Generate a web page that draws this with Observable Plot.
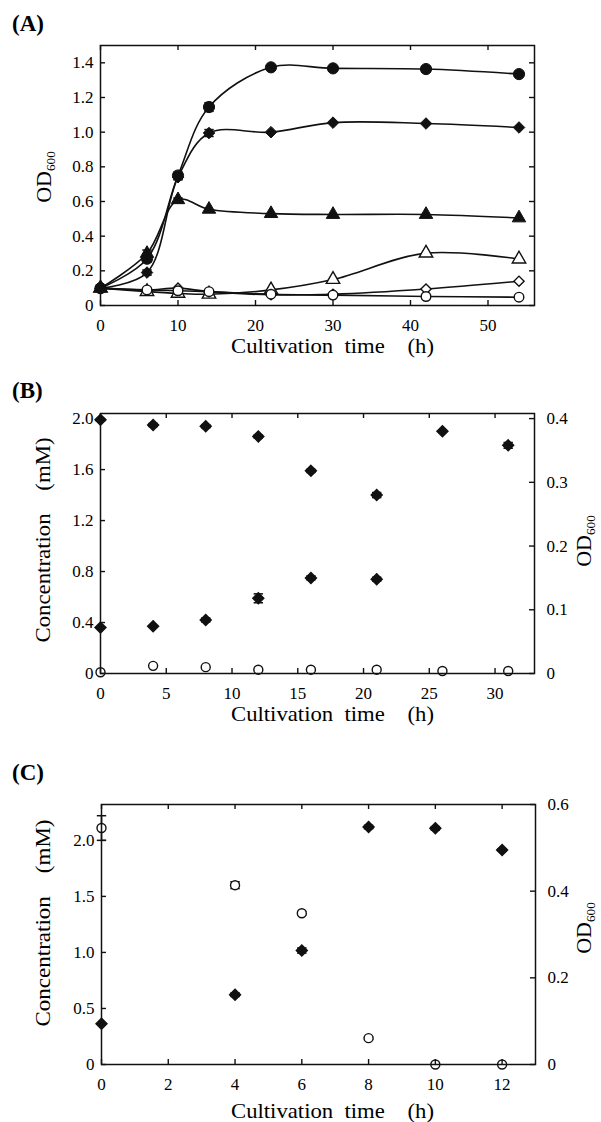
<!DOCTYPE html>
<html>
<head>
<meta charset="utf-8">
<script src="https://cdn.jsdelivr.net/npm/d3@7"></script>
<script src="https://cdn.jsdelivr.net/npm/@observablehq/plot@0.6"></script>
<style>
  html, body { margin: 0; padding: 0; background: #fff; }
  #wrap { position: relative; width: 601px; height: 1122px; overflow: hidden; background: #fff; }
  #wrap svg { position: absolute; left: 0; }
  text.pre { white-space: pre; }
</style>
</head>
<body>
<div id="wrap"></div>
<script>
const FONT = "Liberation Serif, Times New Roman, serif";
const INK = "#111";

// ---------------- Panel A data (OD600 growth curves) ----------------
const aTime = [0, 6, 10, 14, 22, 30, 42, 54];
const aCircleFilled    = [0.10, 0.27, 0.75, 1.145, 1.374, 1.368, 1.364, 1.335];
const aCircleFilledErr = [0, 0.02, 0.02, 0.025, 0.008, 0.008, 0.015, 0.01];
const aDiamondFilled   = [0.10, 0.19, 0.74, 0.995, 1.00, 1.055, 1.05, 1.027];
const aDiamondFilledErr= [0, 0.015, 0.015, 0.02, 0, 0, 0, 0];
const aTriangleFilled  = [0.10, 0.30, 0.61, 0.555, 0.53, 0.525, 0.525, 0.505];
const aTriangleFilledErr=[0, 0.02, 0.01, 0, 0, 0, 0, 0];
const aTriangleOpen    = [0.10, 0.08, 0.07, 0.065, 0.09, 0.15, 0.302, 0.268];
const aDiamondOpen     = [0.10, 0.09, 0.10, 0.08, 0.062, 0.065, 0.095, 0.14];
const aCircleOpen      = [0.10, 0.09, 0.085, 0.08, 0.065, 0.06, 0.052, 0.048];
const aXTicks = [0, 10, 20, 30, 40, 50];
const aYTicks = [0, 0.2, 0.4, 0.6, 0.8, 1.0, 1.2, 1.4];

// ---------------- Panel B data ----------------
const bTime = [0, 4, 8, 12, 16, 21, 26, 31];
const bConcTime = [0, 4, 8, 12, 16, 21];
const bConc    = [1.99, 1.95, 1.94, 1.86, 1.59, 1.40];      // mM, filled diamonds (left axis)
const bConcErr = [0.01, 0.012, 0.012, 0.012, 0.012, 0.02];
const bOD      = [0.072, 0.074, 0.084, 0.118, 0.150, 0.148, 0.380, 0.358]; // OD600 (right axis)
const bODErr   = [0, 0, 0.003, 0.007, 0.003, 0.003, 0, 0.0045];
const bOpen    = [0.01, 0.06, 0.05, 0.03, 0.03, 0.03, 0.02, 0.02]; // mM, open circles
const bXTicks = [0, 5, 10, 15, 20, 25, 30];
const bYTicks = [0, 0.4, 0.8, 1.2, 1.6, 2.0];
const bRightTicks = [0, 0.1, 0.2, 0.3, 0.4];

// ---------------- Panel C data ----------------
const cTime = [0, 4, 6, 8, 10, 12];
const cOpen    = [2.11, 1.60, 1.35, 0.235, 0, 0];            // mM, open circles (left axis)
const cOpenErr = [0.11, 0.03, 0.015, 0.01, 0, 0];
const cOD      = [0.094, 0.161, 0.263, 0.548, 0.545, 0.495]; // OD600, filled diamonds (right axis)
const cODErr   = [0, 0.004, 0.006, 0.004, 0.004, 0.003];
const cXTicks = [0, 2, 4, 6, 8, 10, 12];
const cYTicks = [0, 0.5, 1.0, 1.5, 2.0];
const cRightTicks = [0, 0.2, 0.4, 0.6];

// ---------------- helpers ----------------
const fmt1 = d => d === 0 ? "0" : d.toFixed(1);
const capSymbol = { draw(ctx, size) { const w = Math.sqrt(size) / 2; ctx.moveTo(-w, 0); ctx.lineTo(w, 0); } };

function rows(time, values, err, extra = {}) {
  return time.map((t, i) => ({ t, v: values[i], e: err ? err[i] : 0, ...extra }));
}
function errorBars(data) {
  const d = data.filter(r => r.e > 0);
  return [
    Plot.ruleX(d, { x: "t", y1: r => r.v - r.e, y2: r => r.v + r.e, stroke: INK, strokeWidth: 1.5 }),
    Plot.dot(d, { x: "t", y: r => r.v - r.e, symbol: capSymbol, r: 5.3, stroke: INK, strokeWidth: 1.5 }),
    Plot.dot(d, { x: "t", y: r => r.v + r.e, symbol: capSymbol, r: 5.3, stroke: INK, strokeWidth: 1.5 })
  ];
}
function frameTicks(xTicks, yLeft, yRight, innerW, innerH, len = 5) {
  const o = { stroke: INK, strokeWidth: 1.4 };
  return [
    Plot.tickX(xTicks, { x: d => d, insetTop: innerH - len, ...o }),
    Plot.tickX(xTicks, { x: d => d, insetBottom: innerH - len, ...o }),
    Plot.tickY(yLeft, { y: d => d, insetRight: innerW - len, ...o }),
    Plot.tickY(yRight, { y: d => d, insetLeft: innerW - len, ...o })
  ];
}
function addText(svg, { x, y, text, size = 21, weight = "normal", anchor = "start", rotate = 0, length = null, cls = "" }) {
  const t = d3.select(svg).append("text")
    .attr("transform", `translate(${x},${y}) rotate(${rotate})`)
    .attr("text-anchor", anchor)
    .attr("font-family", FONT).attr("font-size", size).attr("font-weight", weight)
    .attr("fill", "#000").attr("class", cls).text(text);
  if (length) t.attr("textLength", length).attr("lengthAdjust", "spacingAndGlyphs");
  return t;
}
function addOD(svg, x, y, size = 22) {
  const t = d3.select(svg).append("text")
    .attr("transform", `translate(${x},${y}) rotate(-90)`)
    .attr("text-anchor", "middle")
    .attr("font-family", FONT).attr("font-size", size).attr("fill", "#000");
  t.append("tspan").text("OD");
  t.append("tspan").attr("font-size", size * 0.6).attr("dy", size * 0.2).text("600");
}
function place(svg, top) { svg.style.top = top + "px"; document.getElementById("wrap").appendChild(svg); }

const axisStyle = { fontFamily: FONT, fontSize: "17px", color: "#000", background: "transparent", overflow: "visible" };

// ---------------- Panel A ----------------
{
  const W = 601, H = 370, mt = 45, mb = 65, ml = 100, mr = 67;
  const innerW = W - ml - mr, innerH = H - mt - mb;
  const filled = [
    { data: rows(aTime, aCircleFilled, aCircleFilledErr), symbol: "circle", r: 5.6 },
    { data: rows(aTime, aDiamondFilled, aDiamondFilledErr), symbol: "diamond2", r: 5.2 },
    { data: rows(aTime, aTriangleFilled, aTriangleFilledErr), symbol: "triangle", r: 5.0 }
  ];
  const open = [
    { data: rows(aTime, aTriangleOpen), symbol: "triangle", r: 5.0 },
    { data: rows(aTime, aDiamondOpen), symbol: "diamond2", r: 4.6 },
    { data: rows(aTime, aCircleOpen), symbol: "circle", r: 4.8 }
  ];
  const all = [...filled, ...open];
  const svg = Plot.plot({
    width: W, height: H, marginTop: mt, marginBottom: mb, marginLeft: ml, marginRight: mr,
    style: axisStyle,
    x: { domain: [0, 56] },
    y: { domain: [0, 1.5] },
    marks: [
      ...all.map(s => Plot.line(s.data, { x: "t", y: "v", curve: "catmull-rom", stroke: INK, strokeWidth: 1.6 })),
      ...open.map(s => Plot.dot(s.data, { x: "t", y: "v", symbol: s.symbol, r: s.r, fill: "#fff", stroke: INK, strokeWidth: 1.4 })),
      ...filled.map(s => Plot.dot(s.data, { x: "t", y: "v", symbol: s.symbol, r: s.r, fill: INK, stroke: INK, strokeWidth: 1 })),
      ...filled.flatMap(s => errorBars(s.data)),
      Plot.frame({ stroke: INK, strokeWidth: 1.5 }),
      ...frameTicks(aXTicks, aYTicks, aYTicks, innerW, innerH),
      Plot.axisX({ ticks: aXTicks, tickSize: 0, tickPadding: 13, fontSize: 17, label: null, tickFormat: d => String(d) }),
      Plot.axisY({ ticks: aYTicks, tickSize: 0, tickPadding: 7, fontSize: 17, label: null, tickFormat: fmt1 })
    ]
  });
  addText(svg, { x: 12, y: 31, text: "(A)", size: 23, weight: "bold" });
  addText(svg, { x: 231, y: 353, text: "Cultivation  time    (h)", size: 21, length: 203, cls: "pre" });
  addOD(svg, 51, 177);
  place(svg, 0);
}

// ---------------- Panel B ----------------
{
  const W = 601, H = 370, mt = 43, mb = 67, ml = 100, mr = 67;
  const innerW = W - ml - mr, innerH = H - mt - mb;
  const k = 2.0 / 0.4; // right-axis (OD600) to left-axis (mM) factor
  const yMax = 2.04;
  const conc = rows(bConcTime, bConc, bConcErr);
  const od = rows(bTime, bOD.map(v => v * k), bODErr.map(v => v * k));
  const openC = rows(bTime, bOpen);
  const svg = Plot.plot({
    width: W, height: H, marginTop: mt, marginBottom: mb, marginLeft: ml, marginRight: mr,
    style: axisStyle,
    x: { domain: [0, 33] },
    y: { domain: [0, yMax] },
    marks: [
      Plot.dot(openC, { x: "t", y: "v", symbol: "circle", r: 4.5, fill: "#fff", stroke: INK, strokeWidth: 1.4 }),
      Plot.dot(conc, { x: "t", y: "v", symbol: "diamond2", r: 4.9, fill: INK, stroke: INK }),
      Plot.dot(od, { x: "t", y: "v", symbol: "diamond2", r: 4.9, fill: INK, stroke: INK }),
      ...errorBars(conc), ...errorBars(od),
      Plot.frame({ stroke: INK, strokeWidth: 1.5 }),
      ...frameTicks(bXTicks, bYTicks, bRightTicks.map(v => v * k), innerW, innerH),
      Plot.axisX({ ticks: bXTicks, tickSize: 0, tickPadding: 13, fontSize: 17, label: null, tickFormat: d => String(d) }),
      Plot.axisY({ ticks: bYTicks, tickSize: 0, tickPadding: 7, fontSize: 17, label: null, tickFormat: fmt1 }),
      Plot.axisY({ ticks: bRightTicks.map(v => v * k), anchor: "right", tickSize: 0, tickPadding: 12, fontSize: 17, label: null, tickFormat: d => fmt1(d / k) })
    ]
  });
  addText(svg, { x: 12, y: 28, text: "(B)", size: 23, weight: "bold" });
  addText(svg, { x: 231, y: 351, text: "Cultivation  time    (h)", size: 21, length: 203, cls: "pre" });
  addText(svg, { x: 50, y: 170, text: "Concentration    (mM)", size: 21, anchor: "middle", rotate: -90, length: 205, cls: "pre" });
  addOD(svg, 591, 171);
  place(svg, 370);
}

// ---------------- Panel C ----------------
{
  const W = 601, H = 382, mt = 64, mb = 58, ml = 101, mr = 66;
  const innerW = W - ml - mr, innerH = H - mt - mb;
  const yMax = 2.32, rMax = 0.6, k = yMax / rMax;
  const openC = rows(cTime, cOpen, cOpenErr);
  const od = rows(cTime, cOD.map(v => v * k), cODErr.map(v => v * k));
  const svg = Plot.plot({
    width: W, height: H, marginTop: mt, marginBottom: mb, marginLeft: ml, marginRight: mr,
    style: axisStyle,
    x: { domain: [0, 13] },
    y: { domain: [0, yMax] },
    marks: [
      ...errorBars(openC),
      Plot.dot(openC, { x: "t", y: "v", symbol: "circle", r: 4.5, fill: "#fff", stroke: INK, strokeWidth: 1.4 }),
      Plot.dot(od, { x: "t", y: "v", symbol: "diamond2", r: 4.9, fill: INK, stroke: INK }),
      ...errorBars(od),
      Plot.frame({ stroke: INK, strokeWidth: 1.5 }),
      ...frameTicks(cXTicks, cYTicks, cRightTicks.map(v => v * k), innerW, innerH),
      Plot.axisX({ ticks: cXTicks, tickSize: 0, tickPadding: 13, fontSize: 17, label: null, tickFormat: d => String(d) }),
      Plot.axisY({ ticks: cYTicks, tickSize: 0, tickPadding: 7, fontSize: 17, label: null, tickFormat: fmt1 }),
      Plot.axisY({ ticks: cRightTicks.map(v => v * k), anchor: "right", tickSize: 0, tickPadding: 12, fontSize: 17, label: null, tickFormat: d => fmt1(d / k) })
    ]
  });
  addText(svg, { x: 12, y: 40, text: "(C)", size: 23, weight: "bold" });
  addText(svg, { x: 231, y: 378, text: "Cultivation  time    (h)", size: 21, length: 203, cls: "pre" });
  addText(svg, { x: 50, y: 183, text: "Concentration    (mM)", size: 21, anchor: "middle", rotate: -90, length: 207, cls: "pre" });
  addOD(svg, 591, 188);
  place(svg, 740);
}
</script>
</body>
</html>
